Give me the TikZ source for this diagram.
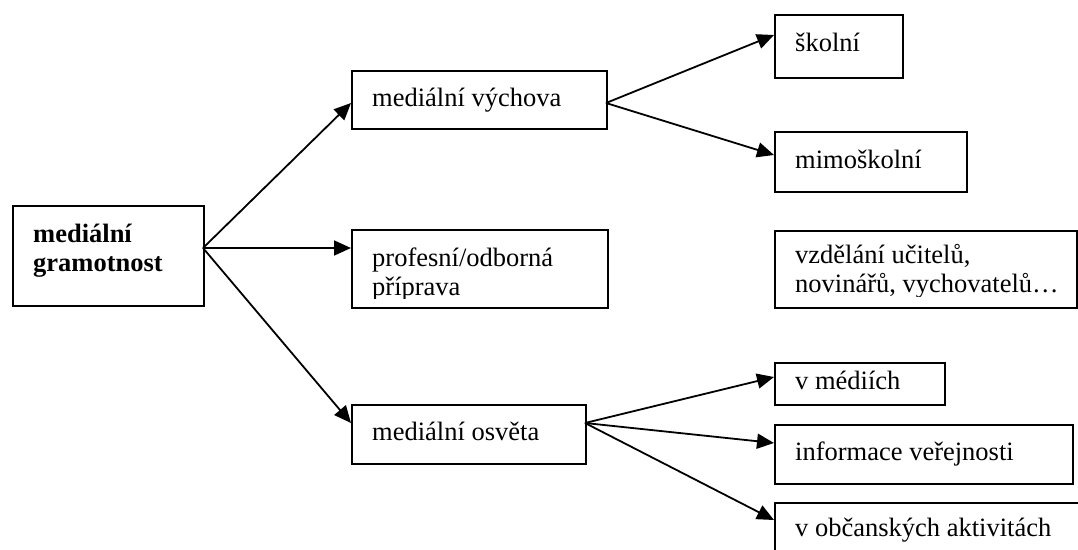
\documentclass[tikz,border=0pt]{standalone}
\usepackage{fontspec}
\setmainfont{Liberation Serif}
\usetikzlibrary{arrows.meta}
\begin{document}
\begin{tikzpicture}[x=1pt,y=-1pt,
  box/.style={draw=black,line width=2pt,rectangle,inner sep=0pt,anchor=north west},
  lbl/.style={inner sep=0pt,anchor=base west,font=\fontsize{26.5}{29}\selectfont},
  arr/.style={line width=1.8pt,-{Triangle[length=17pt,width=15pt]}}]
\useasboundingbox (0,0) rectangle (1078,549);
% boxes
\node[box,minimum width=191pt,minimum height=100pt] (mg) at (12,205) {};
\node[box,minimum width=255pt,minimum height=58pt] (mv) at (351,70) {};
\node[box,minimum width=256pt,minimum height=78pt] (pp) at (351,229) {};
\node[box,minimum width=234pt,minimum height=59pt] (mo) at (351,404) {};
\node[box,minimum width=128pt,minimum height=63pt] (sk) at (774,14) {};
\node[box,minimum width=192pt,minimum height=60pt] (ms) at (774,131) {};
\node[box,minimum width=302pt,minimum height=77pt] (vz) at (774,230) {};
\node[box,minimum width=170pt,minimum height=42pt] (vm) at (774,362) {};
\node[box,minimum width=298pt,minimum height=59pt] (iv) at (774,424) {};
\node[box,minimum width=320pt,minimum height=60pt] (oa) at (774,502) {};
% texts
\node[lbl,font=\fontsize{26.5}{29}\selectfont\bfseries] (mgt1) at (33,242) {mediální};
\node[lbl,font=\fontsize{26.5}{29}\selectfont\bfseries] (mgt2) at (33,271) {gramotnost};
\node[lbl] (mvt) at (372,106) {mediální výchova};
\begin{scope}
\clip (351,229) rectangle (607,298);
\node[lbl] (ppt1) at (372,266) {profesní/odborná};
\node[lbl] (ppt2) at (372,295) {příprava};
\end{scope}
\node[lbl] (mot) at (372,440) {mediální osvěta};
\node[lbl] (skt) at (795,51) {školní};
\node[lbl] (mst) at (795,168) {mimoškolní};
\begin{scope}
\clip (774,230) rectangle (1076,296);
\node[lbl] (vzt1) at (795,263) {vzdělání učitelů,};
\node[lbl] (vzt2) at (795,292) {novinářů, vychovatelů…};
\end{scope}
\node[lbl] (vmt) at (795,389) {v médiích};
\node[lbl] (ivt) at (795,460) {informace veřejnosti};
\node[lbl] (oat) at (795,536) {v občanských aktivitách};
% connector points
\coordinate (mgo) at (203,248);
\coordinate (mvo) at (606,103);
\coordinate (moo) at (585,423);
\coordinate (mvi) at (351,103);
\coordinate (ppi) at (351,248);
\coordinate (moi) at (351,423);
\coordinate (ski) at (774,35);
\coordinate (msi) at (774,155);
\coordinate (vmi) at (774,377);
\coordinate (ivi) at (774,443);
\coordinate (oai) at (774,520);
% arrows
\draw[arr] (mgo) -- (mvi);
\draw[arr] (mgo) -- (ppi);
\draw[arr] (mgo) -- (moi);
\draw[arr] (mvo) -- (ski);
\draw[arr] (mvo) -- (msi);
\draw[arr] (moo) -- (vmi);
\draw[arr] (moo) -- (ivi);
\draw[arr] (moo) -- (oai);
\end{tikzpicture}
\end{document}
